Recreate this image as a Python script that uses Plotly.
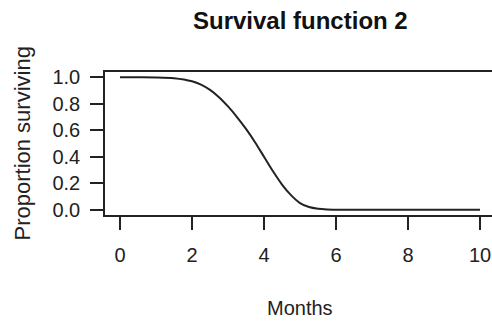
import plotly.graph_objects as go

# Survival curve: months vs. proportion surviving
months = [0, 0.5, 1.0, 1.5, 2.0, 2.25, 2.5, 2.75, 3.0, 3.25, 3.5, 3.75, 4.0,
          4.25, 4.5, 4.75, 5.0, 5.25, 5.5, 5.75, 6.0, 7.0, 8.0, 9.0, 10.0]
surviving = [1.0, 1.0, 0.999, 0.993, 0.97, 0.945, 0.905, 0.85, 0.78, 0.70,
             0.61, 0.51, 0.40, 0.29, 0.19, 0.11, 0.05, 0.02, 0.007, 0.002,
             0.0005, 0.0, 0.0, 0.0, 0.0]

x_ticks = [0, 2, 4, 6, 8, 10]
y_ticks = [0.0, 0.2, 0.4, 0.6, 0.8, 1.0]
y_tick_text = ["0.0", "0.2", "0.4", "0.6", "0.8", "1.0"]

INK = "#222222"
FONT = "Liberation Sans, Arial, Helvetica, sans-serif"

fig = go.Figure()
fig.add_trace(go.Scatter(
    x=months, y=surviving, mode="lines",
    line=dict(color=INK, width=2, shape="spline", smoothing=0.8),
    hoverinfo="skip", showlegend=False,
))

axis_common = dict(
    showgrid=False, zeroline=False, showline=True, linecolor=INK, linewidth=1.5,
    ticks="outside", ticklen=13, tickwidth=1.5, tickcolor=INK,
    tickfont=dict(family=FONT, size=20, color=INK),
)

fig.update_layout(
    width=492, height=321,
    margin=dict(l=105, r=0, t=72, b=106),
    paper_bgcolor="white", plot_bgcolor="white",
    xaxis=dict(range=[-0.4167, 10.333], tickvals=x_ticks, mirror=True,
               ticklabelstandoff=8, **axis_common),
    yaxis=dict(range=[-0.04, 1.04], tickvals=y_ticks, ticktext=y_tick_text,
               mirror=False, ticklabelstandoff=6, **axis_common),
    annotations=[
        dict(text="<b>Survival function 2</b>", x=5, xref="x",
             y=(215 - 20) / 143, yref="paper", showarrow=False,
             xanchor="center", yanchor="middle",
             font=dict(family=FONT, size=24, color="#111111")),
        dict(text="Months", x=5, xref="x", y=(215 - 308) / 143, yref="paper",
             showarrow=False, xanchor="center", yanchor="middle",
             font=dict(family=FONT, size=20, color=INK)),
        dict(text="Proportion surviving", x=(22 - 105) / 387, xref="paper",
             y=0.5, yref="paper", showarrow=False, textangle=-90,
             xanchor="center", yanchor="middle",
             font=dict(family=FONT, size=22, color=INK)),
    ],
)

fig.write_html("out.html")
